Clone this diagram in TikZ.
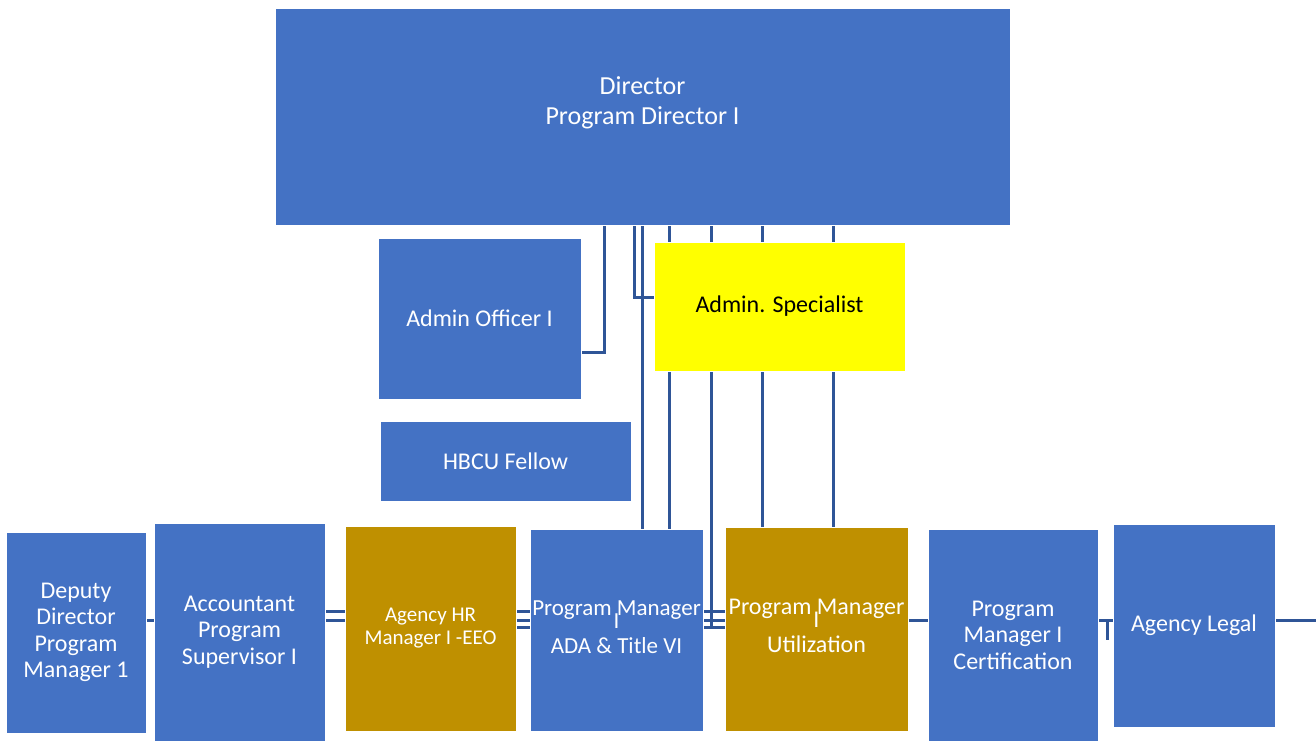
\documentclass[tikz,border=0pt]{standalone}
\usepackage{fontspec}
\setmainfont{Carlito}
\usetikzlibrary{calc, backgrounds}
\definecolor{boxblue}{RGB}{68,114,196}
\definecolor{boxgold}{RGB}{191,144,0}
\definecolor{boxyellow}{RGB}{255,255,0}
\definecolor{linkblue}{RGB}{47,85,151}
\begin{document}
\begin{tikzpicture}[x=1pt, y=-1pt,
        box/.style={fill=boxblue, draw=white, line width=0.6pt, text=white, align=center,
            inner sep=0pt, font=\fontsize{24}{26.5}\selectfont},
        goldbox/.style={box, fill=boxgold},
        link/.style={draw=linkblue, line width=3pt}]
        \useasboundingbox (0, 0) rectangle (1316, 742);
        % top level
        \node [box, minimum width=735pt, minimum height=217pt] (dir) at (642.5, 116.5) {};
        \node [text=white, align=center, font=\fontsize{26}{30}\selectfont] (dirtext)
            at ($(dir.center)+(0, -14)$) {Director\\Program Director I};
        \node [box, minimum width=203pt, minimum height=161pt] (ao) at (479.5, 318.5) {Admin Officer I};
        \node [box, fill=boxyellow, text=black, minimum width=251pt, minimum height=129pt] (spec)
            at (779.5, 306.5) {Admin. Specialist};
        \node [box, minimum width=251pt, minimum height=80pt] (hbcu) at (505.5, 461) {HBCU Fellow};
        % bottom row
        \node [box, minimum width=140pt, minimum height=201pt] (dep) at (76, 632.5)
            {Deputy\\Director\\Program\\Manager 1};
        \node [box, minimum width=171pt, minimum height=218pt] (acct) at (239.5, 632)
            {Accountant\\Program\\Supervisor I};
        \node [goldbox, minimum width=171pt, minimum height=205pt, font=\fontsize{21}{23}\selectfont] (hr)
            at (430.5, 628.5) {Agency HR\\Manager I -EEO};
        \node [box, minimum width=173pt, minimum height=202pt, font=\fontsize{23}{26.5}\selectfont] (ada)
            at (616.5, 630) {Program Manager\\[-13.5pt]I\\[-1.5pt]ADA \& Title VI\\[-20.5pt]\mbox{}};
        \node [goldbox, minimum width=183pt, minimum height=204pt] (util) at (816.5, 629)
            {Program Manager\\[-13.5pt]I\\[-1.5pt]Utilization\\[-20.5pt]\mbox{}};
        \node [box, minimum width=170pt, minimum height=212pt] (cert) at (1013, 635)
            {Program\\Manager I\\Certification};
        \node [box, minimum width=162pt, minimum height=203pt] (legal) at (1194, 625.5) {Agency Legal};
        % connector lanes
        \coordinate (xa) at (604, 0);
        \coordinate (xb) at (634, 0);
        \coordinate (xc) at (642, 0);
        \coordinate (xd) at (669, 0);
        \coordinate (xe) at (711, 0);
        \coordinate (xf) at (762, 0);
        \coordinate (xg) at (833, 0);
        \coordinate (xh) at (1107, 0);
        \coordinate (rowa) at (0, 611);
        \coordinate (rowb) at (0, 620);
        \coordinate (rowc) at (0, 627);
        \coordinate (edge) at (1316, 620);
        \begin{pgfonlayer}{background}
            \draw [link] (dir.south -| xa) |- ($(ao.south east)+(0, -47)$);
            \draw [link] (dir.south -| xb) |- ($(spec.west)+(0, -9.5)$);
            \draw [link] (dir.south -| xc) -- (ada.north -| xc);
            \foreach \lane in {xd, xe, xf, xg}
                \draw [link] (dir.south -| \lane) -- (spec.north -| \lane);
            \draw [link] (spec.south -| xd) -- (ada.north -| xd);
            \draw [link] (spec.south -| xf) -- (util.north -| xf);
            \draw [link] (spec.south -| xg) -- (util.north -| xg);
            \draw [link] (spec.south -| xe) -- (xe |- rowc);
            \draw [link] (dep.east |- rowb) -- (edge);
            \draw [link] (acct.east |- rowa) -- (util.west |- rowa);
            \draw [link] (hr.east |- rowc) -- (util.west |- rowc);
            \draw [link] (xh |- rowb) -- ($(xh |- rowb)+(0, 20)$);
        \end{pgfonlayer}
    \end{tikzpicture}
\end{document}
